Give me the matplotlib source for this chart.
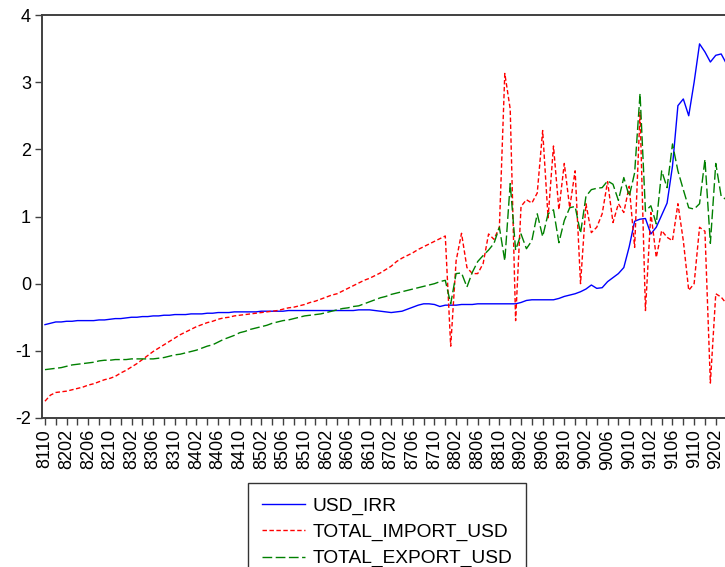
import numpy as np
import pandas as pd
import matplotlib
matplotlib.use("Agg")
import matplotlib.pyplot as plt

plt.rcParams['font.family'] = ['Liberation Sans', 'DejaVu Sans']

# monthly, 1981M10 .. 1992M04
months = pd.period_range('1981-10', periods=127, freq='M')

usd_irr = [
    -0.61, -0.59, -0.57, -0.57, -0.56, -0.56, -0.55, -0.55, -0.55, -0.55,
    -0.54, -0.54, -0.53, -0.52, -0.52, -0.51, -0.50, -0.50, -0.49, -0.49,
    -0.48, -0.48, -0.47, -0.47, -0.46, -0.46, -0.46, -0.45, -0.45, -0.45,
    -0.44, -0.44, -0.43, -0.43, -0.43, -0.42, -0.42, -0.42, -0.42, -0.42,
    -0.41, -0.41, -0.41, -0.41, -0.41, -0.40, -0.40, -0.40, -0.40, -0.40,
    -0.40, -0.40, -0.40, -0.40, -0.40, -0.40, -0.40, -0.40, -0.39, -0.39,
    -0.39, -0.40, -0.41, -0.42, -0.43, -0.42, -0.41, -0.38, -0.35, -0.32,
    -0.30, -0.30, -0.31, -0.34, -0.32, -0.32, -0.32, -0.31, -0.31, -0.31,
    -0.30, -0.30, -0.30, -0.30, -0.30, -0.30, -0.30, -0.30, -0.28, -0.25,
    -0.24, -0.24, -0.24, -0.24, -0.24, -0.22, -0.19, -0.17, -0.15, -0.12,
    -0.08, -0.02, -0.07, -0.06, 0.03, 0.09, 0.15, 0.24, 0.55, 0.93,
    0.96, 0.97, 0.74, 0.84, 1.02, 1.20, 1.75, 2.65, 2.75, 2.50,
    3.00, 3.57, 3.45, 3.30, 3.40, 3.42, 3.27,
]

total_import_usd = [
    -1.75, -1.66, -1.62, -1.61, -1.60, -1.58, -1.56, -1.54, -1.51, -1.49,
    -1.46, -1.43, -1.41, -1.38, -1.33, -1.29, -1.24, -1.19, -1.13, -1.07,
    -1.01, -0.96, -0.91, -0.86, -0.81, -0.76, -0.72, -0.68, -0.64, -0.61,
    -0.58, -0.56, -0.53, -0.51, -0.50, -0.48, -0.47, -0.46, -0.45, -0.44,
    -0.43, -0.42, -0.41, -0.40, -0.38, -0.36, -0.35, -0.33, -0.31, -0.28,
    -0.26, -0.23, -0.20, -0.17, -0.15, -0.11, -0.07, -0.03, 0.01, 0.05,
    0.08, 0.12, 0.16, 0.21, 0.26, 0.33, 0.38, 0.42, 0.46, 0.51,
    0.55, 0.59, 0.63, 0.67, 0.71, -0.93, 0.34, 0.75, 0.24, 0.15,
    0.15, 0.30, 0.74, 0.66, 0.84, 3.13, 2.60, -0.55, 1.15, 1.25,
    1.20, 1.35, 2.28, 0.98, 2.05, 1.10, 1.79, 1.13, 1.68, 0.00,
    1.19, 0.76, 0.84, 1.04, 1.52, 0.91, 1.19, 1.06, 1.45, 0.54,
    2.55, -0.40, 1.06, 0.39, 0.79, 0.69, 0.64, 1.19, 0.64, -0.10,
    0.00, 0.84, 0.78, -1.48, -0.15, -0.20, -0.30,
]

total_export_usd = [
    -1.28, -1.27, -1.26, -1.25, -1.23, -1.21, -1.20, -1.19, -1.18, -1.17,
    -1.15, -1.14, -1.14, -1.13, -1.13, -1.13, -1.12, -1.12, -1.12, -1.12,
    -1.12, -1.11, -1.10, -1.08, -1.06, -1.05, -1.03, -1.01, -0.99, -0.96,
    -0.93, -0.91, -0.87, -0.83, -0.80, -0.77, -0.73, -0.71, -0.68, -0.66,
    -0.64, -0.62, -0.59, -0.57, -0.55, -0.54, -0.52, -0.50, -0.48, -0.47,
    -0.46, -0.45, -0.43, -0.41, -0.39, -0.37, -0.36, -0.34, -0.33, -0.30,
    -0.27, -0.24, -0.21, -0.19, -0.16, -0.14, -0.12, -0.10, -0.08, -0.06,
    -0.04, -0.02, 0.00, 0.03, 0.05, -0.30, 0.15, 0.16, -0.05, 0.17,
    0.33, 0.42, 0.50, 0.60, 0.84, 0.34, 1.49, 0.50, 0.74, 0.52,
    0.64, 1.04, 0.70, 1.04, 1.10, 0.61, 0.94, 1.13, 1.15, 0.75,
    1.30, 1.40, 1.42, 1.43, 1.53, 1.48, 1.24, 1.58, 1.30, 1.65,
    2.83, 1.08, 1.16, 0.89, 1.68, 1.43, 2.08, 1.68, 1.40, 1.13,
    1.11, 1.19, 1.85, 0.60, 1.79, 1.30, 1.25,
]

labels = [p.strftime('%y%m') for p in months]
x = np.arange(len(months))

fig = plt.figure(figsize=(7.25, 5.67), dpi=100)
ax = fig.add_axes([42 / 725, 149 / 567, 690 / 725, 403 / 567])

ax.plot(x, usd_irr, color='#0000ff', lw=1.0, label='USD_IRR')
ax.plot(x, total_import_usd, color='#ff0000', lw=1.0, dashes=(3.2, 1.8),
        label='TOTAL_IMPORT_USD')
ax.plot(x, total_export_usd, color='#008000', lw=1.0, dashes=(7, 2.5),
        label='TOTAL_EXPORT_USD')

ax.set_xlim(-0.55, 127)
ax.set_ylim(-2, 4)
ax.set_yticks([-2, -1, 0, 1, 2, 3, 4])
ax.set_yticklabels(['-2', '-1', '0', '1', '2', '3', '4'])

ax.set_xticks(x[::4])
ax.set_xticklabels(labels[::4], rotation=90)
ax.set_xticks(x[::2], minor=True)

for s in ax.spines.values():
    s.set_color('#404040')
    s.set_linewidth(1.4)

ax.tick_params(axis='both', which='both', direction='out', color='#404040',
               width=1.0, length=5, labelcolor='black')
ax.tick_params(axis='x', which='major', labelsize=13, pad=3)
ax.tick_params(axis='y', labelsize=13, pad=3)

handles, names = ax.get_legend_handles_labels()
leg = fig.legend(handles, names, loc='upper left',
                 bbox_to_anchor=(248 / 725, 1 - 483 / 567),
                 fontsize=13.8, frameon=True, fancybox=False,
                 handlelength=2.2, handletextpad=0.4, labelspacing=0.45,
                 borderpad=0.75, borderaxespad=0)
leg.get_frame().set_edgecolor('black')
leg.get_frame().set_linewidth(1.0)

fig.savefig('out.png', dpi=100)
